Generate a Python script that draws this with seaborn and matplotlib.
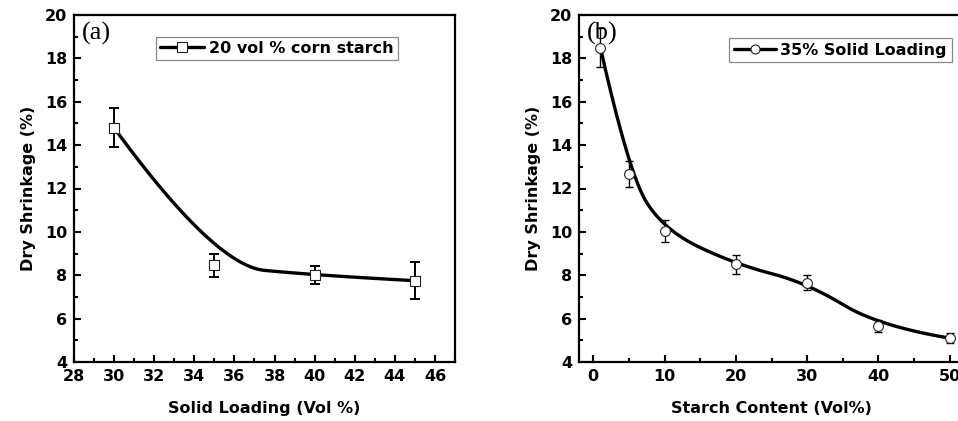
import numpy as np
import pandas as pd
import matplotlib
matplotlib.use("Agg")
import matplotlib.pyplot as plt
from matplotlib.ticker import MultipleLocator
from matplotlib.lines import Line2D
import seaborn as sns

# ---- data (a) ----
solid_loading = [30, 35, 40, 45]
shrink_a = [14.8, 8.45, 8.0, 7.75]
err_a = [0.9, 0.55, 0.42, 0.85]
label_a = "20 vol % corn starch"

# ---- data (b) ----
starch_content = [1, 5, 10, 20, 30, 40, 50]
shrink_b = [18.5, 12.65, 10.05, 8.5, 7.65, 5.65, 5.1]
err_b = [0.9, 0.6, 0.5, 0.42, 0.35, 0.28, 0.22]
label_b = "35% Solid Loading"


def bspline2(xs, ys, n=60):
    """Clamped quadratic B-spline using the data points as control points."""
    P = np.column_stack([xs, ys]).astype(float)
    m = len(P)
    out = []
    t = np.linspace(0, 1, n)[:, None]
    for i in range(m - 2):
        q0 = P[0] if i == 0 else (P[i] + P[i + 1]) / 2
        q1 = P[i + 1]
        q2 = P[m - 1] if i == m - 3 else (P[i + 1] + P[i + 2]) / 2
        seg = (1 - t) ** 2 * q0 + 2 * t * (1 - t) * q1 + t ** 2 * q2
        out.append(seg if i == 0 else seg[1:])
    c = np.vstack(out)
    return pd.DataFrame({"x": c[:, 0], "y": c[:, 1]})


sns.set_theme(style="ticks")
plt.rcParams["font.family"] = ["DejaVu Sans"]
plt.rcParams["font.weight"] = "bold"
for k in ["text.color", "axes.labelcolor", "xtick.color", "ytick.color",
          "xtick.labelcolor", "ytick.labelcolor"]:
    plt.rcParams[k] = "black"

fig = plt.figure(figsize=(9.58, 4.21), dpi=100)
W, H = 958, 421


def px_axes(l, t, r, b):
    return fig.add_axes([l / W, 1 - b / H, (r - l) / W, (b - t) / H])


ax1 = px_axes(74, 15, 455, 362)
ax2 = px_axes(579, 15, 964, 362)


def style(ax, xmaj, xmin):
    for s in ax.spines.values():
        s.set_linewidth(1.6)
        s.set_color("black")
    ax.set_ylim(4, 20)
    ax.yaxis.set_major_locator(MultipleLocator(2))
    ax.yaxis.set_minor_locator(MultipleLocator(1))
    ax.xaxis.set_major_locator(MultipleLocator(xmaj))
    ax.xaxis.set_minor_locator(MultipleLocator(xmin))
    ax.tick_params(which="both", direction="in", top=False, right=False,
                   width=1.5, color="black", labelcolor="black")
    ax.tick_params(which="major", length=5, labelsize=11.5, pad=5)
    ax.tick_params(which="minor", length=3)
    for lab in ax.get_xticklabels() + ax.get_yticklabels():
        lab.set_fontweight("bold")
    ax.set_ylabel("Dry Shrinkage (%)", fontsize=11.5, fontweight="bold",
                  labelpad=6, color="black")


# ---- panel (a) ----
curve_a = bspline2(solid_loading, shrink_a)
sns.lineplot(data=curve_a, x="x", y="y", ax=ax1, color="black", lw=2.4,
             sort=False, estimator=None)
ax1.errorbar(solid_loading, shrink_a, yerr=err_a, fmt="none", ecolor="black",
             elinewidth=1.4, capsize=3.8, capthick=1.4, zorder=3)
sns.scatterplot(x=solid_loading, y=shrink_a, ax=ax1, marker="s", s=50,
                facecolor="white", edgecolor="#222222", linewidth=0.8, zorder=4)
ax1.set_xlim(28, 47)
style(ax1, 2, 1)
ax1.set_xlabel("Solid Loading (Vol %)", fontsize=11.5, fontweight="bold",
               labelpad=12, color="black")
ax1.text(0.02, 0.948, "(a)", transform=ax1.transAxes, ha="left", va="center",
         fontsize=19, family=["Liberation Serif", "DejaVu Serif"], fontweight="normal",
         color="black")
h_a = Line2D([], [], color="black", lw=2.4, marker="s", markersize=6.5,
             markerfacecolor="white", markeredgecolor="#222222", markeredgewidth=0.8)
leg = ax1.legend([h_a], [label_a], loc="upper right", bbox_to_anchor=(0.85, 0.937),
                 frameon=True, fancybox=False, edgecolor="#888888", framealpha=1,
                 handlelength=2.8, handletextpad=0.3, borderpad=0.25,
                 borderaxespad=0, prop={"weight": "bold", "size": 11.5},
                 labelcolor="black")
leg.get_frame().set_linewidth(0.9)

# ---- panel (b) ----
curve_b = bspline2(starch_content, shrink_b)
sns.lineplot(data=curve_b, x="x", y="y", ax=ax2, color="black", lw=2.4,
             sort=False, estimator=None)
ax2.errorbar(starch_content, shrink_b, yerr=err_b, fmt="none", ecolor="black",
             elinewidth=1.0, capsize=3.2, capthick=1.0, zorder=3)
sns.scatterplot(x=starch_content, y=shrink_b, ax=ax2, marker="o", s=50,
                facecolor="white", edgecolor="#222222", linewidth=0.8, zorder=4)
ax2.set_xlim(-2, 52)
style(ax2, 10, 5)
ax2.set_xlabel("Starch Content (Vol%)", fontsize=11.5, fontweight="bold",
               labelpad=12, color="black")
ax2.text(0.02, 0.948, "(b)", transform=ax2.transAxes, ha="left", va="center",
         fontsize=19, family=["Liberation Serif", "DejaVu Serif"], fontweight="normal",
         color="black", zorder=5)
h_b = Line2D([], [], color="black", lw=2.4, marker="o", markersize=6.5,
             markerfacecolor="white", markeredgecolor="#222222", markeredgewidth=0.8)
leg2 = ax2.legend([h_b], [label_b], loc="upper right", bbox_to_anchor=(0.968, 0.934),
                  frameon=True, fancybox=False, edgecolor="#888888", framealpha=1,
                  handlelength=2.6, handletextpad=0.3, borderpad=0.3,
                  borderaxespad=0, prop={"weight": "bold", "size": 11.5},
                  labelcolor="black")
leg2.get_frame().set_linewidth(0.9)

fig.savefig("out.png", dpi=100)
